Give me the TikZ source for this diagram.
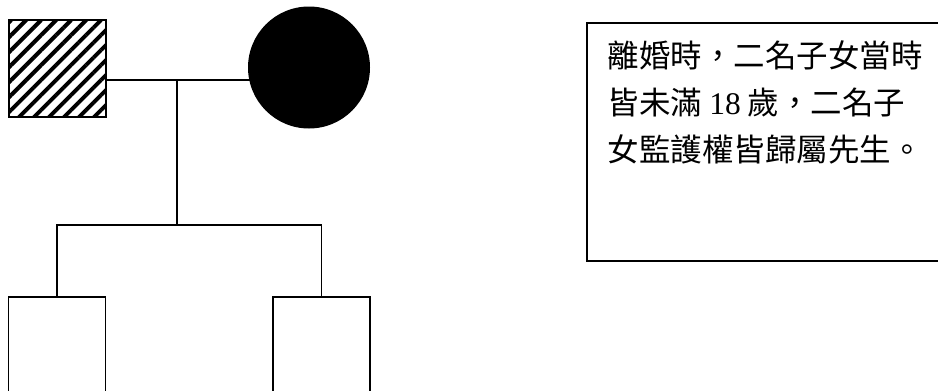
\documentclass[tikz,border=0pt]{standalone}
\usepackage{fontspec}
\setmainfont{Liberation Serif}
\newfontfamily\cjk{Noto Sans CJK TC}
\newfontfamily\latn{Liberation Serif}
\usetikzlibrary{patterns.meta}
\begin{document}
\begin{tikzpicture}[x=1pt,y=-1pt, line width=1.6pt,
  person/.style={draw, minimum size=97pt, inner sep=0pt, outer sep=0pt},
  notebox/.style={draw, minimum width=356pt, minimum height=238pt, inner sep=0pt}]
\useasboundingbox (0,0) rectangle (938,391);
\node[person, pattern={Lines[angle=45,distance=10.6pt,line width=4pt]}] (fa) at (57.5,68.5) {};
\node[circle, fill, minimum size=122pt, inner sep=0pt] (mo) at (309,67.5) {};
\coordinate (mar) at (177,80);
\coordinate (sib) at (177,225);
\node[person, anchor=north] (c1) at (57,297) {};
\node[person, anchor=north] (c2) at (321.5,297) {};
\draw (fa.east |- mar) -- (mo.center |- mar);
\draw (mar) -- (sib);
\draw (c1.north) -- (c1.north |- sib) -- (c2.north |- sib) -- (c2.north);
\node[notebox, anchor=north west] (note) at (586,22) {};
\node[anchor=north west, align=left, inner sep=0pt, font=\fontsize{31.5}{47}\selectfont\cjk] (txt) at (607,40) {離婚時，二名子女當時\\皆未滿 {\latn 18} 歲，二名子\\女監護權皆歸屬先生。};
\end{tikzpicture}
\end{document}
